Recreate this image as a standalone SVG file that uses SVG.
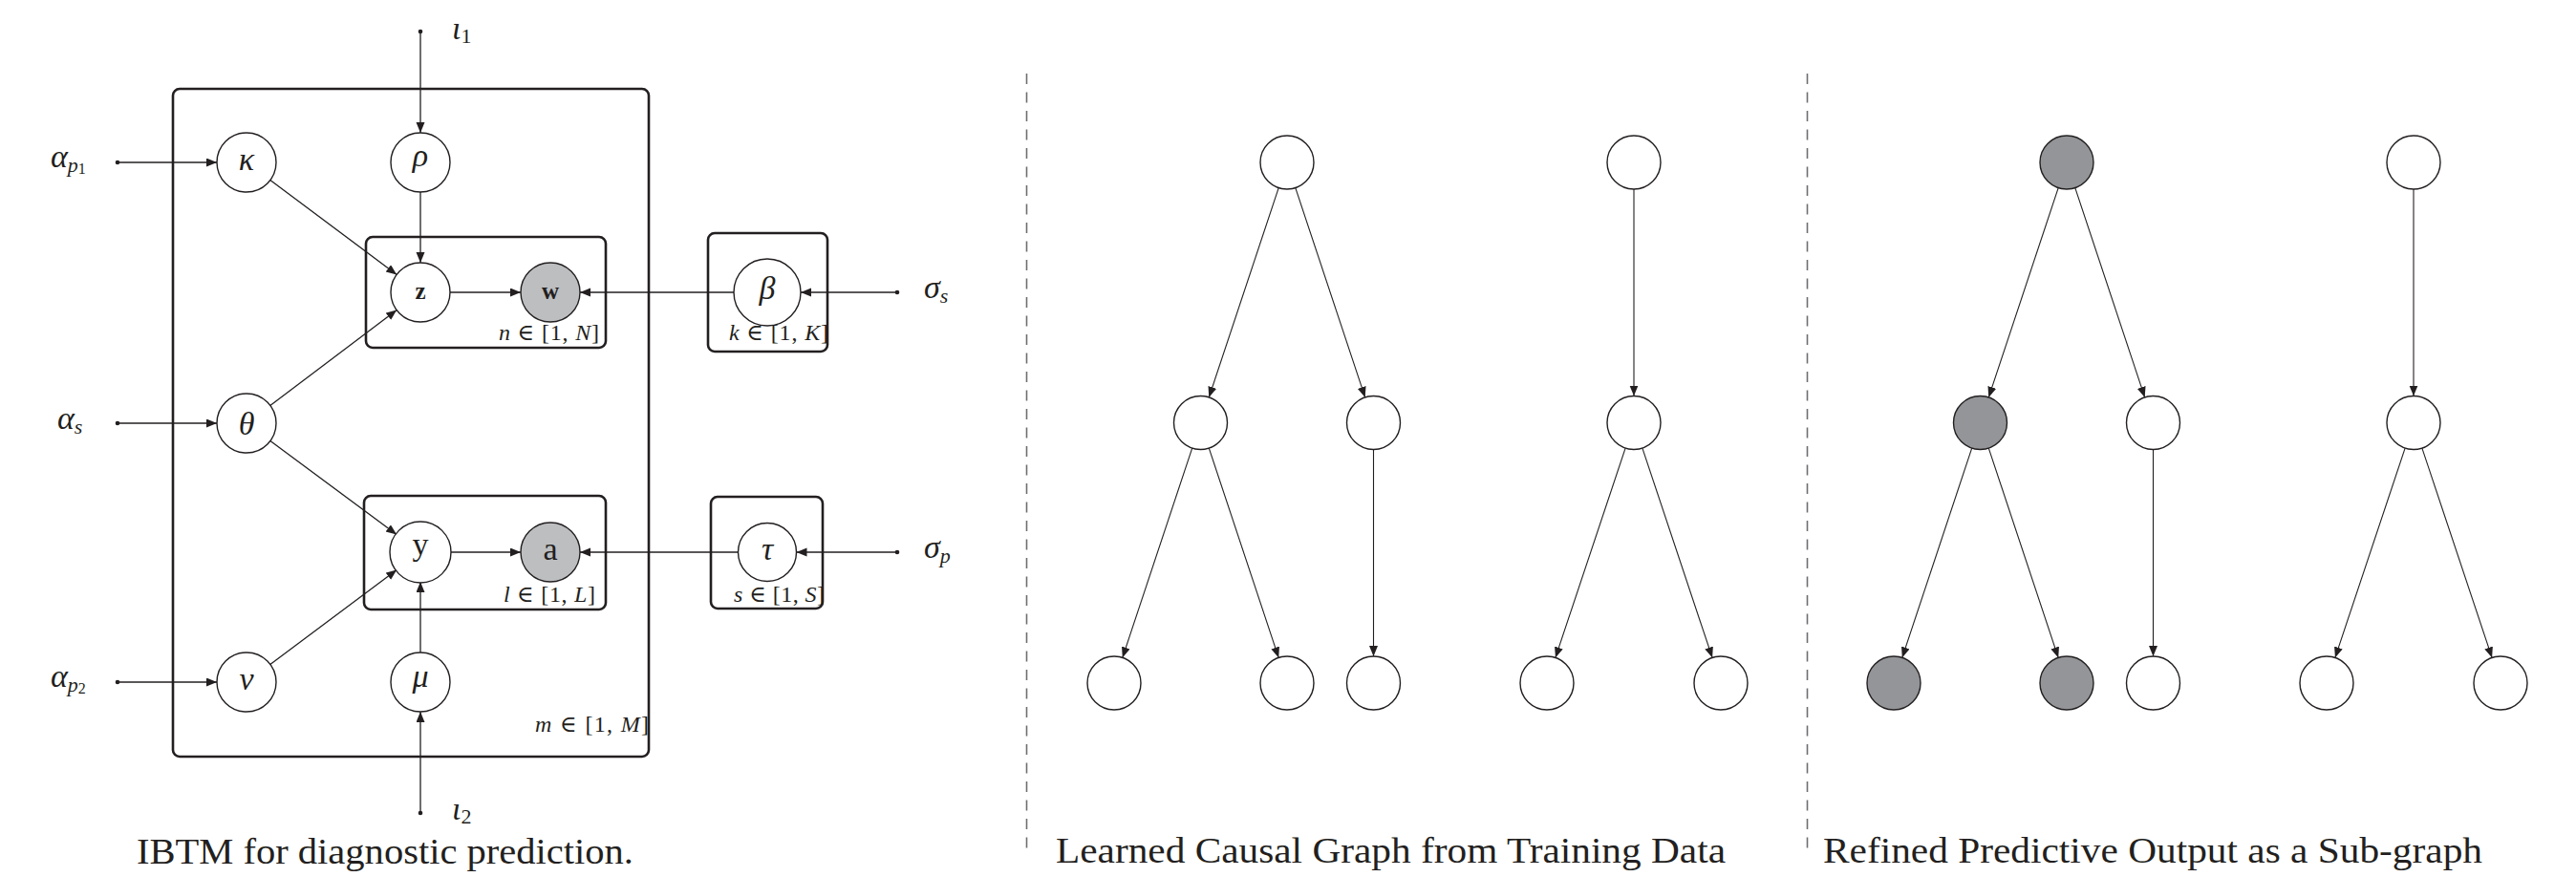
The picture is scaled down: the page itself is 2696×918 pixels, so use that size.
<svg xmlns="http://www.w3.org/2000/svg" width="2696" height="918" viewBox="0 0 2696 918">
  <style>
    .bg { fill: #ffffff; }
    .node { fill: #ffffff; stroke: #231f20; stroke-width: 1.4; }
    .obs { fill: #bcbec0; }
    .sel { fill: #939598; }
    .plate { fill: none; stroke: #231f20; stroke-width: 2.6; }
    .edge { fill: none; stroke: #231f20; stroke-width: 1.3; marker-end: url(#arrow); }
    .tedge { fill: none; stroke: #231f20; stroke-width: 1.1; marker-end: url(#arrow); }
    .dot { fill: #231f20; }
    .sep { stroke: #6d6e71; stroke-width: 1.6; stroke-dasharray: 11 8.5; }
    text { font-family: "Liberation Serif", "DejaVu Serif", serif; fill: #231f20; }
    .gk { font-size: 34px; font-style: italic; }
    .sub { font-size: 22px; font-style: italic; }
    .num { font-size: 22px; }
    .sub2 { font-size: 16px; }
    .bf { font-size: 25px; font-weight: bold; }
    .rm { font-size: 34px; }
    .pl { font-size: 24px; }
    .it { font-style: italic; }
    .cap { font-size: 37px; }
  </style>
  <defs>
    <marker id="arrow" markerUnits="userSpaceOnUse" markerWidth="12" markerHeight="10" refX="11" refY="4.5" orient="auto">
      <path d="M0,0 L11,4.5 L0,9 z" fill="#231f20"/>
    </marker>
  </defs>

  <rect class="bg" x="0" y="0" width="2696" height="918"/>

  <!-- ===== Left panel: IBTM plate model ===== -->
  <g id="plates">
    <rect id="plate-m" class="plate" x="181" y="93" width="498" height="699" rx="7"/>
    <rect id="plate-n" class="plate" x="383" y="248" width="251" height="116" rx="7"/>
    <rect id="plate-l" class="plate" x="381" y="519" width="253" height="119" rx="7"/>
    <rect id="plate-k" class="plate" x="741" y="244" width="125" height="124" rx="7"/>
    <rect id="plate-s" class="plate" x="744" y="520" width="117" height="117" rx="7"/>
    <text class="pl" x="522" y="356" textLength="105" lengthAdjust="spacing"><tspan class="it">n</tspan> ∈ [1, <tspan class="it">N</tspan>]</text>
    <text class="pl" x="763" y="356" textLength="104" lengthAdjust="spacing"><tspan class="it">k</tspan> ∈ [1, <tspan class="it">K</tspan>]</text>
    <text class="pl" x="527" y="630" textLength="96" lengthAdjust="spacing"><tspan class="it">l</tspan> ∈ [1, <tspan class="it">L</tspan>]</text>
    <text class="pl" x="768" y="630" textLength="95" lengthAdjust="spacing"><tspan class="it">s</tspan> ∈ [1, <tspan class="it">S</tspan>]</text>
    <text class="pl" x="560" y="766" textLength="119" lengthAdjust="spacing"><tspan class="it">m</tspan> ∈ [1, <tspan class="it">M</tspan>]</text>
  </g>

  <g id="connectors-left">
    <!-- hyperparameter inputs -->
    <line class="edge" x1="440" y1="33" x2="440" y2="139"/>
    <line class="edge" x1="123" y1="170" x2="227" y2="170"/>
    <line class="edge" x1="123" y1="443" x2="227" y2="443"/>
    <line class="edge" x1="123" y1="714" x2="227" y2="714"/>
    <line class="edge" x1="440" y1="851" x2="440" y2="745"/>
    <line class="edge" x1="939" y1="306" x2="838" y2="306"/>
    <line class="edge" x1="939" y1="578" x2="833.5" y2="578"/>
    <!-- latent structure -->
    <line class="edge" x1="440" y1="201" x2="440" y2="275"/>
    <line class="edge" x1="282.8" y1="188.6" x2="415.2" y2="287.4"/>
    <line class="edge" x1="282.8" y1="424.4" x2="415.2" y2="324.6"/>
    <line class="edge" x1="282.9" y1="461.5" x2="415.1" y2="559.5"/>
    <line class="edge" x1="282.8" y1="695.4" x2="415.2" y2="596.6"/>
    <line class="edge" x1="440" y1="683" x2="440" y2="609"/>
    <line class="edge" x1="471" y1="306" x2="545" y2="306"/>
    <line class="edge" x1="471" y1="578" x2="545" y2="578"/>
    <line class="edge" x1="768" y1="306" x2="607" y2="306"/>
    <line class="edge" x1="772.5" y1="578" x2="607" y2="578"/>
    <!-- source points -->
    <circle class="dot" cx="440" cy="33" r="2.3"/>
    <circle class="dot" cx="123" cy="170" r="2.3"/>
    <circle class="dot" cx="123" cy="443" r="2.3"/>
    <circle class="dot" cx="123" cy="714" r="2.3"/>
    <circle class="dot" cx="440" cy="851" r="2.3"/>
    <circle class="dot" cx="939" cy="306" r="2.3"/>
    <circle class="dot" cx="939" cy="578" r="2.3"/>
  </g>

  <g id="hyper-labels">
    <text x="473" y="41"><tspan class="gk">ι</tspan><tspan class="num" dy="4">1</tspan></text>
    <text x="473" y="858"><tspan class="gk">ι</tspan><tspan class="num" dy="4">2</tspan></text>
    <text x="53" y="175"><tspan class="gk">α</tspan><tspan class="sub" dy="5">p</tspan><tspan class="sub2" dy="2">1</tspan></text>
    <text x="60" y="449"><tspan class="gk">α</tspan><tspan class="sub" dy="5">s</tspan></text>
    <text x="53" y="719"><tspan class="gk">α</tspan><tspan class="sub" dy="5">p</tspan><tspan class="sub2" dy="2">2</tspan></text>
    <text x="967" y="312"><tspan class="gk">σ</tspan><tspan class="sub" dy="5">s</tspan></text>
    <text x="967" y="584"><tspan class="gk">σ</tspan><tspan class="sub" dy="5">p</tspan></text>
  </g>

  <g id="node-kappa"><circle class="node" cx="258" cy="170" r="31"/><text class="gk" x="258" y="178" text-anchor="middle">κ</text></g>
  <g id="node-rho"><circle class="node" cx="440" cy="170" r="31"/><text class="gk" x="440" y="174" text-anchor="middle">ρ</text></g>
  <g id="node-theta"><circle class="node" cx="258" cy="443" r="31"/><text class="gk" x="258" y="455" text-anchor="middle">θ</text></g>
  <g id="node-nu"><circle class="node" cx="258" cy="714" r="31"/><text class="gk" x="258" y="722" text-anchor="middle">ν</text></g>
  <g id="node-mu"><circle class="node" cx="440" cy="714" r="31"/><text class="gk" x="440" y="719" text-anchor="middle">μ</text></g>
  <g id="node-z"><circle class="node" cx="440" cy="306" r="31"/><text class="bf" x="440" y="313" text-anchor="middle">z</text></g>
  <g id="node-w"><circle class="node obs" cx="576" cy="306" r="31"/><text class="bf" x="576" y="313" text-anchor="middle">w</text></g>
  <g id="node-y"><circle class="node" cx="440" cy="578" r="32"/><text class="rm" x="440" y="581" text-anchor="middle">y</text></g>
  <g id="node-a"><circle class="node obs" cx="576" cy="578" r="31"/><text class="rm" x="576" y="586" text-anchor="middle">a</text></g>
  <g id="node-beta"><circle class="node" cx="803" cy="306" r="35"/><text class="gk" x="803" y="313" text-anchor="middle">β</text></g>
  <g id="node-tau"><circle class="node" cx="803" cy="578" r="30.5"/><text class="gk" x="803" y="586" text-anchor="middle">τ</text></g>

  <text id="caption-ibtm" class="cap" x="143" y="904" textLength="520" lengthAdjust="spacingAndGlyphs">IBTM for diagnostic prediction.</text>

  <!-- ===== Separators ===== -->
  <g id="separators">
    <line class="sep" x1="1074.5" y1="77" x2="1074.5" y2="892"/>
    <line class="sep" x1="1891.5" y1="77" x2="1891.5" y2="892"/>
  </g>

  <!-- ===== Middle panel: learned causal graph ===== -->
  <g id="connectors-causal">
    <line class="tedge" x1="1338.2" y1="196.6" x2="1265.3" y2="415.9"/>
    <line class="tedge" x1="1355.8" y1="196.6" x2="1428.7" y2="415.9"/>
    <line class="tedge" x1="1247.7" y1="469.1" x2="1174.8" y2="688.4"/>
    <line class="tedge" x1="1265.3" y1="469.1" x2="1338.2" y2="688.4"/>
    <line class="tedge" x1="1437.5" y1="470.5" x2="1437.5" y2="687"/>
    <line class="tedge" x1="1710" y1="198" x2="1710" y2="414.5"/>
    <line class="tedge" x1="1701.1" y1="469.1" x2="1627.9" y2="688.4"/>
    <line class="tedge" x1="1718.9" y1="469.1" x2="1792.1" y2="688.4"/>
  </g>
  <g id="c-root-a"><circle class="node" cx="1347" cy="170" r="28"/></g>
  <g id="c-mid-a1"><circle class="node" cx="1256.5" cy="442.5" r="28"/></g>
  <g id="c-mid-a2"><circle class="node" cx="1437.5" cy="442.5" r="28"/></g>
  <g id="c-leaf-a1"><circle class="node" cx="1166" cy="715" r="28"/></g>
  <g id="c-leaf-a2"><circle class="node" cx="1347" cy="715" r="28"/></g>
  <g id="c-leaf-a3"><circle class="node" cx="1437.5" cy="715" r="28"/></g>
  <g id="c-root-b"><circle class="node" cx="1710" cy="170" r="28"/></g>
  <g id="c-mid-b"><circle class="node" cx="1710" cy="442.5" r="28"/></g>
  <g id="c-leaf-b1"><circle class="node" cx="1619" cy="715" r="28"/></g>
  <g id="c-leaf-b2"><circle class="node" cx="1801" cy="715" r="28"/></g>
  <text id="caption-causal" class="cap" x="1105" y="903" textLength="701" lengthAdjust="spacingAndGlyphs">Learned Causal Graph from Training Data</text>

  <!-- ===== Right panel: refined sub-graph ===== -->
  <g id="connectors-refined">
    <line class="tedge" x1="2154.2" y1="196.6" x2="2081.3" y2="415.9"/>
    <line class="tedge" x1="2171.8" y1="196.6" x2="2244.7" y2="415.9"/>
    <line class="tedge" x1="2063.7" y1="469.1" x2="1990.8" y2="688.4"/>
    <line class="tedge" x1="2081.3" y1="469.1" x2="2154.2" y2="688.4"/>
    <line class="tedge" x1="2253.5" y1="470.5" x2="2253.5" y2="687"/>
    <line class="tedge" x1="2526" y1="198" x2="2526" y2="414.5"/>
    <line class="tedge" x1="2517.1" y1="469.1" x2="2443.9" y2="688.4"/>
    <line class="tedge" x1="2534.9" y1="469.1" x2="2608.1" y2="688.4"/>
  </g>
  <g id="r-root-a"><circle class="node sel" cx="2163" cy="170" r="28"/></g>
  <g id="r-mid-a1"><circle class="node sel" cx="2072.5" cy="442.5" r="28"/></g>
  <g id="r-mid-a2"><circle class="node" cx="2253.5" cy="442.5" r="28"/></g>
  <g id="r-leaf-a1"><circle class="node sel" cx="1982" cy="715" r="28"/></g>
  <g id="r-leaf-a2"><circle class="node sel" cx="2163" cy="715" r="28"/></g>
  <g id="r-leaf-a3"><circle class="node" cx="2253.5" cy="715" r="28"/></g>
  <g id="r-root-b"><circle class="node" cx="2526" cy="170" r="28"/></g>
  <g id="r-mid-b"><circle class="node" cx="2526" cy="442.5" r="28"/></g>
  <g id="r-leaf-b1"><circle class="node" cx="2435" cy="715" r="28"/></g>
  <g id="r-leaf-b2"><circle class="node" cx="2617" cy="715" r="28"/></g>
  <text id="caption-refined" class="cap" x="1908" y="903" textLength="690" lengthAdjust="spacingAndGlyphs">Refined Predictive Output as a Sub-graph</text>
</svg>
